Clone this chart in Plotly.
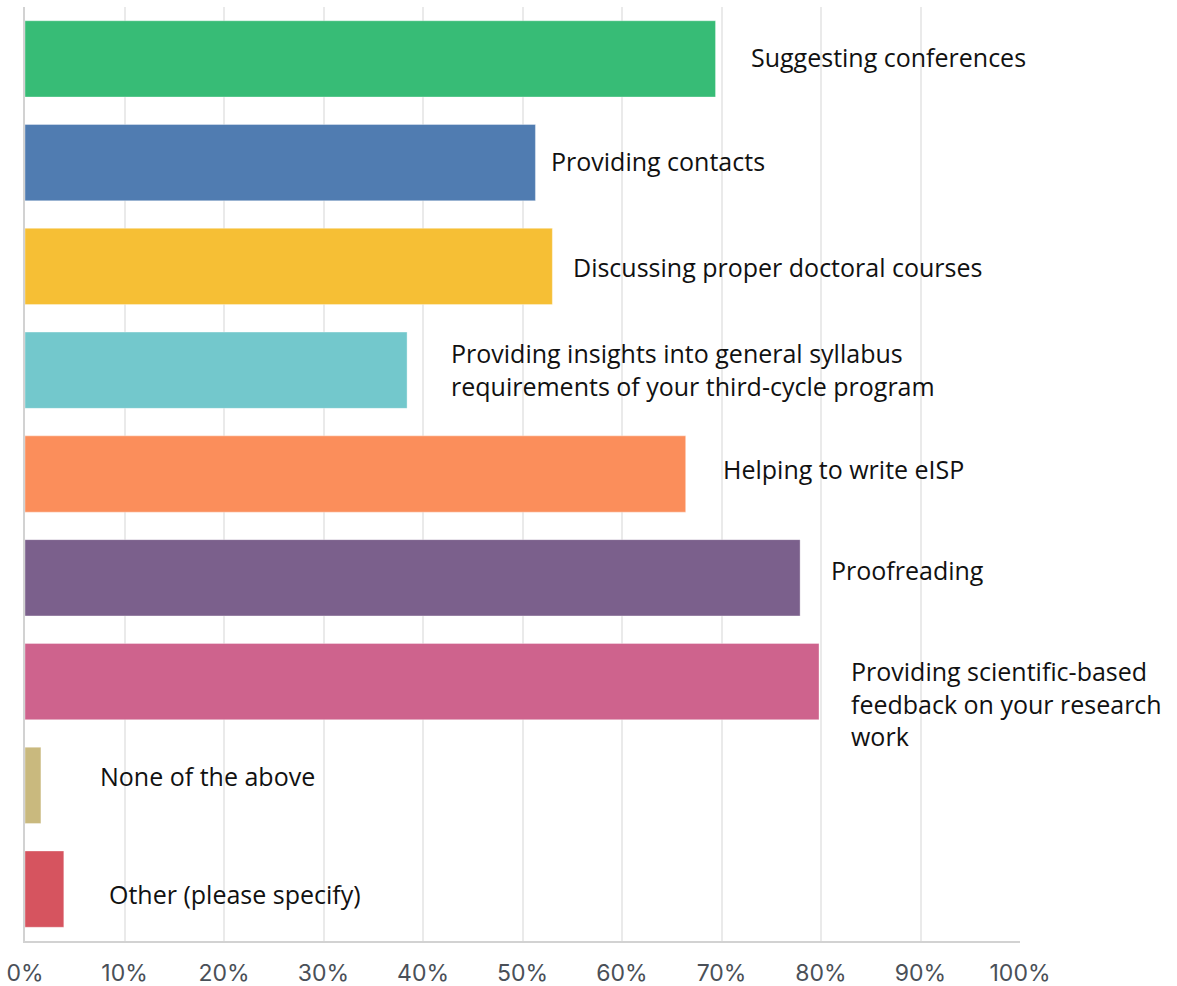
import plotly.graph_objects as go

# Survey answers: share of respondents per support type (%)
categories = [
    "Suggesting conferences",
    "Providing contacts",
    "Discussing proper doctoral courses",
    "Providing insights into general syllabus<br>requirements of your third-cycle program",
    "Helping to write eISP",
    "Proofreading",
    "Providing scientific-based<br>feedback on your research<br>work",
    "None of the above",
    "Other (please specify)",
]
values = [69.4, 51.3, 53.0, 38.4, 66.4, 77.9, 79.8, 1.6, 3.9]
tick_values = [0, 10, 20, 30, 40, 50, 60, 70, 80, 90, 100]
tick_labels = ["0%", "10%", "20%", "30%", "40%", "50%", "60%", "70%", "80%", "90%", "100%"]

# styling
bar_colors = ["#37BC76", "#507CB1", "#F6BF35", "#73C8CC", "#FB8E5B",
              "#7B608C", "#CE638D", "#C9B97E", "#D6545F"]
label_x = [72.8, 52.7, 54.9, 42.6, 69.9, 80.8, 82.8, 7.3, 8.2]
label_yshift = [2, 2, -1, 1, 5, 8, -22, 9, -5]

fig = go.Figure(
    go.Bar(
        x=values,
        y=categories,
        orientation="h",
        marker=dict(color=bar_colors,
                    line=dict(color="rgba(255,255,255,0.35)", width=1)),
        hoverinfo="skip",
    )
)

for cat, lx, ys in zip(categories, label_x, label_yshift):
    fig.add_annotation(
        x=lx, y=cat, xref="x", yref="y",
        text=cat, showarrow=False,
        xanchor="left", yanchor="middle", align="left",
        yshift=ys,
        font=dict(family="Open Sans", size=25, color="#111111"),
    )

fig.update_layout(
    width=1177, height=986,
    margin=dict(l=25, r=157, t=7, b=45),
    plot_bgcolor="white", paper_bgcolor="white",
    bargap=0.265,
    showlegend=False,
    xaxis=dict(
        range=[0, 100],
        tickvals=tick_values, ticktext=tick_labels,
        showgrid=True, gridcolor="#EAEAEA", gridwidth=1.5,
        showline=True, linecolor="#D2D2D2", linewidth=2,
        zeroline=False, automargin=False,
        ticks="", ticklabelstandoff=10,
        tickfont=dict(family="Inter", size=23, color="#4A5058"),
        fixedrange=True,
    ),
    yaxis=dict(
        categoryorder="array", categoryarray=categories,
        autorange="reversed",
        showticklabels=False, showgrid=False,
        showline=True, linecolor="#D2D2D2", linewidth=2,
        zeroline=False, ticks="", automargin=False,
        fixedrange=True,
    ),
)

fig.write_html("out.html")
